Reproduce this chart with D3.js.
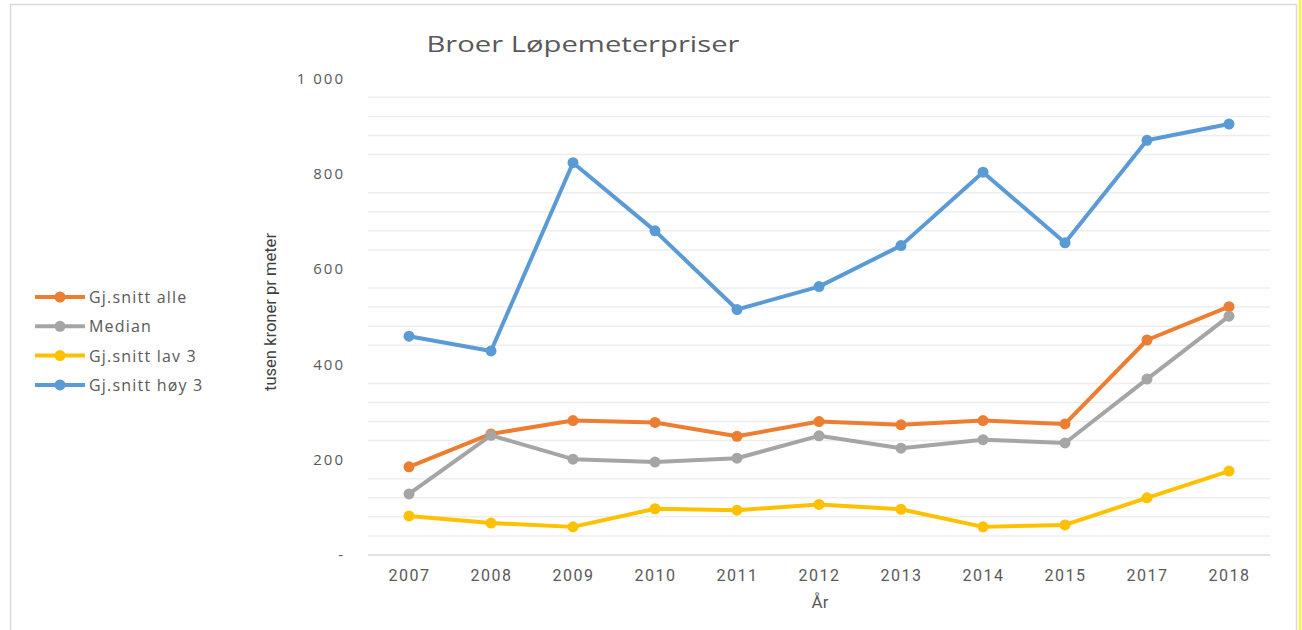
<!DOCTYPE html>
<html>
<head>
<meta charset="utf-8">
<script src="https://cdn.jsdelivr.net/npm/d3@7"></script>
<style>
  body { margin: 0; background: #fff; }
  svg { display: block; font-family: "Open Sans", "Noto Sans", sans-serif; }
</style>
</head>
<body>
<div id="chart"></div>
<script>
// data
var years = ["2007", "2008", "2009", "2010", "2011", "2012", "2013", "2014", "2015", "2017", "2018"];
var snittAlle = [185, 254, 282, 278, 249, 280, 273, 282, 275, 451, 521];
var median = [128, 251, 201, 195, 203, 250, 224, 242, 235, 369, 501];
var snittLav3 = [82, 67, 59, 97, 94, 106, 96, 59, 63, 120, 176];
var snittHoy3 = [459, 428, 823, 680, 515, 563, 649, 803, 655, 870, 904];
var yTicks = [0, 200, 400, 600, 800, 1000];
var yTickLabels = ["-", "200", "400", "600", "800", "1 000"];

var series = [
  { name: "Gj.snitt alle", values: snittAlle, color: "#ED7D31" },
  { name: "Median", values: median, color: "#A5A5A5" },
  { name: "Gj.snitt lav 3", values: snittLav3, color: "#FFC000" },
  { name: "Gj.snitt høy 3", values: snittHoy3, color: "#5B9BD5" }
];

var width = 1302, height = 630;
var plotLeft = 368, plotRight = 1270, plotTop = 78.3, plotBottom = 555;

var svg = d3.select("#chart").append("svg")
  .attr("width", width)
  .attr("height", height);

// outer frame
svg.append("rect")
  .attr("x", 10.5).attr("y", 4.5)
  .attr("width", 1286).attr("height", 640)
  .style("fill", "none")
  .style("stroke", "#d9d9d9")
  .style("stroke-width", 1.5);
svg.append("line")
  .attr("x1", 1300).attr("x2", 1300)
  .attr("y1", 0).attr("y2", height)
  .style("stroke", "#ffff00")
  .style("stroke-width", 2);

var x = d3.scalePoint()
  .domain(years)
  .range([plotLeft, plotRight])
  .padding(0.5);

var y = d3.scaleLinear()
  .domain([0, 1000])
  .range([plotBottom, plotTop]);

// minor gridlines every 40 (major ones are not drawn in the reference)
var gridVals = d3.range(40, 1000, 40).filter(function(v) { return v % 200 !== 0; });
svg.append("g").selectAll("line")
  .data(gridVals)
  .enter().append("line")
  .attr("x1", plotLeft).attr("x2", plotRight)
  .attr("y1", function(d) { return y(d); })
  .attr("y2", function(d) { return y(d); })
  .style("stroke", "#eeeeee")
  .style("stroke-width", 1.5);

// x axis line
svg.append("line")
  .attr("x1", plotLeft).attr("x2", plotRight)
  .attr("y1", y(0)).attr("y2", y(0))
  .style("stroke", "#d9d9d9")
  .style("stroke-width", 1.5);

// y axis labels
var yAxis = d3.axisLeft(y)
  .tickValues(yTicks)
  .tickSize(0)
  .tickPadding(0)
  .tickFormat(function(d, i) { return yTickLabels[i]; });
var yg = svg.append("g")
  .attr("transform", "translate(345,0)")
  .call(yAxis);
yg.select(".domain").remove();
yg.selectAll("text")
  .style("font-family", "'Open Sans', sans-serif")
  .style("font-size", "15px")
  .style("letter-spacing", "2px")
  .style("fill", "#595959");

// x axis labels
var xAxis = d3.axisBottom(x).tickSize(0).tickPadding(0);
var xg = svg.append("g")
  .attr("transform", "translate(0,570)")
  .call(xAxis);
xg.select(".domain").remove();
xg.selectAll("text")
  .style("font-family", "'Roboto', sans-serif")
  .style("font-size", "16px")
  .style("letter-spacing", "1.5px")
  .style("fill", "#595959");

// titles
svg.append("text")
  .attr("x", 583).attr("y", 52)
  .attr("text-anchor", "middle")
  .attr("textLength", 313)
  .attr("lengthAdjust", "spacingAndGlyphs")
  .style("font-size", "22px")
  .style("fill", "#595959")
  .text("Broer Løpemeterpriser");

svg.append("text")
  .attr("transform", "translate(276,312) rotate(-90)")
  .attr("text-anchor", "middle")
  .attr("textLength", 158)
  .attr("lengthAdjust", "spacingAndGlyphs")
  .style("font-family", "'Roboto', sans-serif")
  .style("font-size", "17px")
  .style("fill", "#404040")
  .text("tusen kroner pr meter");

svg.append("text")
  .attr("x", 820).attr("y", 608)
  .attr("text-anchor", "middle")
  .style("font-family", "'Roboto', sans-serif")
  .style("font-size", "17px")
  .style("fill", "#595959")
  .text("År");

// lines and markers
var line = d3.line()
  .x(function(d, i) { return x(years[i]); })
  .y(function(d) { return y(d); });

var sg = svg.selectAll(".series")
  .data(series)
  .enter().append("g")
  .attr("class", "series");

sg.append("path")
  .attr("d", function(d) { return line(d.values); })
  .style("fill", "none")
  .style("stroke", function(d) { return d.color; })
  .style("stroke-width", 4)
  .style("stroke-linejoin", "round");

sg.selectAll("circle")
  .data(function(d) { return d.values.map(function(v, i) { return { v: v, i: i, color: d.color }; }); })
  .enter().append("circle")
  .attr("cx", function(d) { return x(years[d.i]); })
  .attr("cy", function(d) { return y(d.v); })
  .attr("r", 5.5)
  .style("fill", function(d) { return d.color; });

// legend
var legend = svg.append("g").selectAll("g")
  .data(series)
  .enter().append("g")
  .attr("transform", function(d, i) { return "translate(35," + (297 + i * 29.3) + ")"; });
legend.append("line")
  .attr("x1", 0).attr("x2", 50)
  .style("stroke", function(d) { return d.color; })
  .style("stroke-width", 4);
legend.append("circle")
  .attr("cx", 25).attr("r", 5.5)
  .style("fill", function(d) { return d.color; });
legend.append("text")
  .attr("x", 54).attr("y", 6)
  .style("font-size", "16px")
  .style("letter-spacing", "1.2px")
  .style("fill", "#595959")
  .text(function(d) { return d.name; });
</script>
</body>
</html>
